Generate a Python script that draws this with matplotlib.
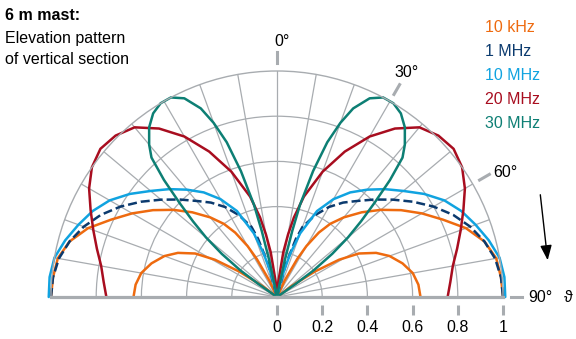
import numpy as np
import matplotlib
matplotlib.use("Agg")
import matplotlib.pyplot as plt
from matplotlib.transforms import offset_copy

plt.rcParams['font.family'] = ['Liberation Sans', 'DejaVu Sans']

# Winkel von der Senkrechten (Grad) und relative Feldstärke (rechte Hälfte, symmetrisch)
khz10_th = [0, 22, 25, 28, 30, 33, 36, 40, 45, 50, 55, 60, 65, 70, 75, 80, 85, 90]
khz10_r = [0, 0, 0.08, 0.19, 0.26, 0.34, 0.4, 0.46, 0.53, 0.6, 0.67, 0.74, 0.81, 0.89, 0.95, 0.985, 0.995, 1.0]

khz10_low_th = [0, 50, 53, 56, 59, 62, 66, 70, 75, 80, 85, 90]
khz10_low_r = [0, 0, 0.08, 0.2, 0.32, 0.41, 0.48, 0.53, 0.575, 0.61, 0.628, 0.635]

mhz1_th = [0, 12, 15, 18, 20, 25, 30, 35, 40, 45, 50, 55, 60, 65, 70, 75, 80, 85, 90]
mhz1_r = [0, 0, 0.15, 0.27, 0.33, 0.40, 0.46, 0.51, 0.555, 0.61, 0.67, 0.735, 0.80, 0.86, 0.91, 0.95, 0.98, 0.995, 1.0]

mhz10_th = [0, 10, 13, 15, 17, 20, 25, 30, 35, 40, 45, 50, 55, 60, 65, 70, 75, 80, 85, 90]
mhz10_r = [0, 0, 0.06, 0.12, 0.2, 0.3, 0.42, 0.5, 0.565, 0.62, 0.675, 0.73, 0.795, 0.855, 0.9, 0.935, 0.97, 1.0, 1.01, 1.01]

mhz20_th = [0, 3, 5, 8, 10, 12, 15, 20, 25, 30, 35, 40, 45, 50, 55, 60, 65, 70, 75, 80, 85, 90]
mhz20_r = [0, 0.02, 0.07, 0.2, 0.28, 0.36, 0.46, 0.59, 0.71, 0.82, 0.91, 0.98, 1.01, 1.02, 1.0, 0.96, 0.91, 0.865, 0.825, 0.79, 0.77, 0.755]

mhz30_th = [0, 10, 12, 13, 14, 16, 18, 20, 22, 25, 28, 31, 34, 37, 40, 42, 44, 46, 48, 50, 52, 54, 55, 56, 90]
mhz30_r = [0, 0.03, 0.17, 0.3, 0.42, 0.58, 0.72, 0.82, 0.9, 0.97, 1.0, 1.0, 0.98, 0.94, 0.88, 0.83, 0.72, 0.6, 0.5, 0.41, 0.31, 0.2, 0.1, 0, 0]

legend_labels = ["10 kHz", "1 MHz", "10 MHz", "20 MHz", "30 MHz"]
c_or, c_db, c_lb, c_red, c_teal = "#ee6a0f", "#0b3a6e", "#10a3e0", "#a80d1f", "#0d7f74"
grid_c = "#a8acb0"

r_ticks = [0, 0.2, 0.4, 0.6, 0.8, 1]
r_tick_labels = ["0", "0.2", "0.4", "0.6", "0.8", "1"]
ang_ticks = [0, 30, 60, 90]

fig = plt.figure(figsize=(5.76, 3.39), dpi=100)
# Polarachse bleibt quadratisch, Halbkreis sitzt mittig darin
ax = fig.add_axes([51 / 576, -71 / 339, 452 / 576, 452 / 339], projection='polar')
ax.set_theta_zero_location('N')
ax.set_theta_direction(-1)
ax.set_thetamin(-90)
ax.set_thetamax(90)
ax.set_rlim(0, 1)

ax.set_thetagrids(np.arange(-90, 91, 10), labels=[''] * 19)
ax.set_rgrids([0.2, 0.4, 0.6, 0.8], labels=[''] * 4)
ax.grid(True, color=grid_c, lw=0.9)
ax.spines['polar'].set_color(grid_c)
ax.spines['polar'].set_linewidth(1.0)
for s in ('start', 'end'):
    ax.spines[s].set_color(grid_c)
    ax.spines[s].set_linewidth(2.3)


def both(th, r):
    th = np.radians(th)
    return np.concatenate([-th[::-1], th]), np.concatenate([r[::-1], r])


curves = [
    (khz10_low_th, khz10_low_r, c_or, '-'),
    (khz10_th, khz10_r, c_or, '-'),
    (mhz1_th, mhz1_r, c_db, (0, (3.6, 1.6))),
    (mhz10_th, mhz10_r, c_lb, '-'),
    (mhz20_th, mhz20_r, c_red, '-'),
    (mhz30_th, mhz30_r, c_teal, '-'),
]
for th, r, c, ls in curves:
    t, rr = both(np.array(th, float), np.array(r, float))
    ax.plot(t, rr, color=c, ls=ls, lw=1.8, clip_on=False, solid_capstyle='round')

# Winkelmarken außen
for a in ang_ticks:
    ax.plot([np.radians(a)] * 2, [1.035, 1.085], color=grid_c, lw=2.2, clip_on=False)
ax.text(np.radians(1.2), 1.13, "0°", ha='center', va='center', fontsize=11.5)
ax.text(np.radians(30.1), 1.146, "30°", ha='center', va='center', fontsize=11.5)
ax.text(np.radians(61.3), 1.15, "60°", ha='center', va='center', fontsize=11.5)
ax.text(np.radians(90), 1.164, "90°", ha='center', va='center', fontsize=11.5)
ax.text(np.radians(90), 1.29, "ϑ", ha='center', va='center', fontsize=11.5)

# r-Achse unter der Grundlinie
tick_tr = offset_copy(ax.transData, fig=fig, y=-12.5, units='dots')
ax.plot([np.pi / 2] * len(r_ticks), r_ticks, ls='none', marker='|', ms=6.5, mew=2.2,
        color=grid_c, transform=tick_tr, clip_on=False)
for r, lab in zip(r_ticks, r_tick_labels):
    ax.annotate(lab, xy=(np.pi / 2, r), xytext=(0, -31), textcoords='offset pixels',
                ha='center', va='center', fontsize=11.5, annotation_clip=False)

# Überschrift
fig.text(5 / 576, 1 - 16 / 339, "6 m mast:", fontsize=11.5, fontweight='bold', va='center')
fig.text(5 / 576, 1 - 38 / 339, "Elevation pattern", fontsize=11.5, va='center')
fig.text(5 / 576, 1 - 60 / 339, "of vertical section", fontsize=11.5, va='center')

# Legende
for i, (lab, c) in enumerate(zip(legend_labels, [c_or, c_db, c_lb, c_red, c_teal])):
    fig.text(485 / 576, 1 - (27 + 24.2 * i) / 339, lab, color=c, fontsize=11.5, va='center')

fig.add_artist(matplotlib.patches.FancyArrowPatch(
    (540 / 576, 1 - 192 / 339), (548 / 576, 1 - 263 / 339), transform=fig.transFigure,
    arrowstyle='-|>,head_length=0.9,head_width=0.35', color='black', lw=1.0, mutation_scale=10))

fig.savefig("out.png", dpi=100)
